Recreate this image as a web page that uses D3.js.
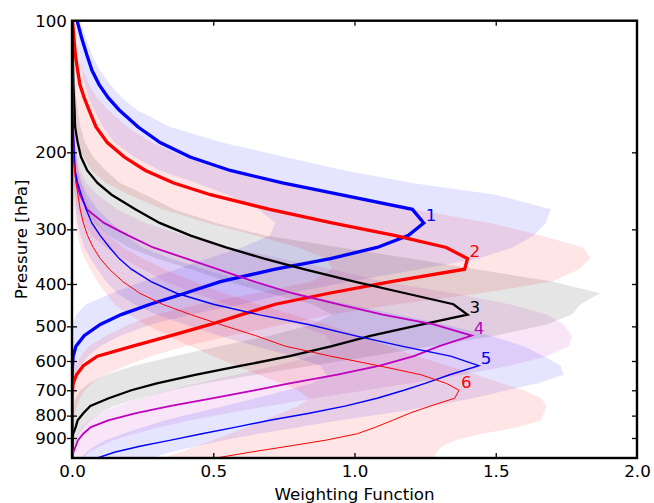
<html>
<head>
  <style>
  body { margin: 0; background: #fff; }
  text { font-family: "DejaVu Sans", sans-serif; }
  .tick text { font-size: 16.7px; }
  .tick line { stroke: #000; stroke-width: 1.3px; }
  .domain { display: none; }
  </style>
  <script src="https://d3js.org/d3.v7.min.js"></script>
</head>
<body>
  <svg id="chart" width="654" height="503"></svg>
  <script>
  // pressure levels [hPa]
  var pressure = [100,110,120,130,140,150,160,175,190,205,220,235,250,270,290,310,330,350,370,395,
                  420,445,470,495,525,555,585,615,645,675,700,730,760,790,820,850,880,910,940,970,1000];

  // weighting function of each channel
  var ch1 = [0.018,0.035,0.053,0.071,0.096,0.128,0.167,0.234,0.312,0.418, 0.56,0.745,0.95,1.205,1.245,1.19,1.08,0.915,0.72,0.525,
             0.40,0.277,0.174,0.10,0.043,0.014,0.004,0.002,0.001,0, 0,0,0,0,0,0,0,0,0,0,0];
  var ch2 = [0.002,0.007,0.012,0.02,0.028,0.043,0.06,0.085,0.125,0.185, 0.26,0.36,0.49,0.70,0.92,1.145,1.325,1.40,1.39,1.13,
             0.91,0.72,0.60,0.49,0.35,0.215,0.09,0.04,0.016,0.004, 0.002,0.001,0,0,0,0,0,0,0,0,0];
  var ch3 = [0.001,0.002,0.003,0.004,0.005,0.007,0.009,0.011,0.02,0.032, 0.054,0.09,0.14,0.224,0.31,0.42,0.545,0.68,0.82,1.0,
             1.18,1.35,1.40,1.24,1.06,0.92,0.77,0.60,0.44,0.30, 0.21,0.13,0.065,0.04,0.02,0.013,0.004,0.002,0.001,0,0];
  var ch4 = [0.001,0.001,0.001,0.002,0.002,0.002,0.003,0.004,0.006,0.008, 0.010,0.016,0.028,0.053,0.113,0.20,0.287,0.405,0.515,0.645,
             0.78,0.94,1.10,1.28,1.415,1.30,1.21,1.09,0.94,0.77, 0.645,0.50,0.35,0.227,0.128,0.067,0.04,0.021,0.013,0.005,0.002];
  var ch5 = [0,0,0.001,0.001,0.002,0.002,0.003,0.004,0.006,0.008, 0.011,0.02,0.033,0.05,0.07,0.10,0.133,0.167,0.21,0.28,
             0.37,0.50,0.66,0.837,1.0,1.167,1.34,1.44,1.337,1.25, 1.175,1.08,0.97,0.84,0.70,0.58,0.46,0.35,0.24,0.15,0.09];
  var ch6 = [0,0,0,0,0.001,0.001,0.001,0.002,0.003,0.005, 0.009,0.014,0.021,0.029,0.040,0.055,0.075,0.10,0.132,0.18,
             0.24,0.32,0.42,0.525,0.65,0.755,0.915,1.085,1.235,1.325, 1.37,1.355,1.27,1.195,1.135,1.075,1.01,0.90,0.765,0.63,0.51];

  // spread (lower / upper edge of shaded band)
  var lo1 = [0.013,0.02,0.028,0.035,0.045,0.06,0.078,0.11,0.15,0.22, 0.31,0.44,0.55,0.66,0.72,0.70,0.60,0.48,0.37,0.25,
             0.14,0.05,0.015,0.004,0.001,0,0,0,0,0, 0,0,0,0,0,0,0,0,0,0,0];
  var hi1 = [0.028,0.05,0.071,0.099,0.135,0.177,0.23,0.348,0.532,0.755, 0.965,1.205,1.50,1.695,1.677,1.635,1.56,1.44,1.23,0.985,
             0.77,0.60,0.42,0.28,0.17,0.10,0.057,0.03,0.015,0.008, 0.005,0.003,0.002,0.001,0,0,0,0,0,0,0];
  var lo2 = [0,0,0,0.001,0.002,0.003,0.005,0.01,0.02,0.04, 0.07,0.12,0.20,0.32,0.48,0.65,0.80,0.90,0.92,0.85,
             0.65,0.45,0.30,0.20,0.12,0.06,0.03,0.012,0.004,0, 0,0,0,0,0,0,0,0,0,0,0];
  var hi2 = [0.011,0.018,0.027,0.039,0.06,0.089,0.128,0.195,0.284,0.397, 0.546,0.72,0.936,1.205,1.48,1.66,1.81,1.835,1.795,1.70,
             1.45,1.15,0.92,0.75,0.56,0.40,0.28,0.19,0.117,0.07, 0.046,0.028,0.018,0.01,0.007,0.004,0.002,0.001,0.001,0,0];
  var lo3 = [0,0,0,0,0.001,0.001,0.002,0.003,0.005,0.008, 0.012,0.02,0.03,0.05,0.08,0.13,0.2,0.3,0.42,0.55,
             0.70,0.85,0.92,0.85,0.70,0.52,0.36,0.22,0.12,0.06, 0.03,0.012,0.004,0,0,0,0,0,0,0,0];
  var hi3 = [0.003,0.004,0.006,0.008,0.011,0.015,0.02,0.03,0.046,0.075, 0.12,0.17,0.26,0.36,0.51,0.685,0.95,1.20,1.43,1.70,
             1.87,1.80,1.77,1.68,1.50,1.27,1.06,0.845,0.65,0.47, 0.35,0.24,0.15,0.10,0.064,0.042,0.025,0.015,0.008,0.004,0.002];
  var lo4 = [0,0,0,0,0,0,0.001,0.001,0.002,0.003, 0.004,0.006,0.01,0.02,0.04,0.07,0.12,0.18,0.25,0.33,
             0.43,0.55,0.68,0.80,0.90,0.92,0.85,0.72,0.58,0.45, 0.34,0.24,0.16,0.10,0.06,0.035,0.02,0.01,0.005,0.002,0.001];
  var hi4 = [0.002,0.002,0.003,0.003,0.004,0.005,0.006,0.008,0.012,0.018, 0.03,0.05,0.09,0.16,0.26,0.40,0.56,0.74,0.92,1.10,
             1.35,1.55,1.68,1.74,1.77,1.76,1.68,1.55,1.38,1.20, 1.04,0.86,0.70,0.55,0.42,0.31,0.22,0.15,0.10,0.06,0.04];
  var lo5 = [0,0,0,0,0,0,0,0.001,0.001,0.002, 0.003,0.005,0.008,0.013,0.02,0.03,0.045,0.065,0.09,0.12,
             0.16,0.22,0.30,0.40,0.52,0.65,0.78,0.88,0.90,0.85, 0.76,0.65,0.54,0.43,0.33,0.25,0.18,0.12,0.08,0.05,0.03];
  var hi5 = [0.001,0.001,0.002,0.002,0.003,0.004,0.005,0.007,0.01,0.015, 0.022,0.035,0.055,0.09,0.14,0.19,0.25,0.35,0.47,0.62,
             0.80,0.98,1.15,1.32,1.48,1.60,1.67,1.73,1.74,1.65, 1.54,1.42,1.28,1.12,0.95,0.80,0.66,0.54,0.44,0.35,0.28];
  var lo6 = [0,0,0,0,0,0,0,0,0,0, 0.001,0.002,0.004,0.008,0.012,0.02,0.03,0.045,0.065,0.09,
             0.12,0.15,0.20,0.26,0.34,0.42,0.50,0.58,0.66,0.74, 0.80,0.84,0.80,0.74,0.68,0.62,0.56,0.50,0.44,0.38,0.32];
  var hi6 = [0.001,0.001,0.002,0.002,0.003,0.004,0.005,0.007,0.01,0.015, 0.022,0.032,0.045,0.065,0.09,0.13,0.18,0.25,0.33,0.43,
             0.54,0.66,0.78,0.90,1.02,1.12,1.22,1.33,1.43,1.52, 1.60,1.66,1.68,1.67,1.66,1.58,1.45,1.36,1.31,1.29,1.28];

  var channels = ["1","2","3","4","5","6"];
  var lines = [ch1, ch2, ch3, ch4, ch5, ch6];
  var lows  = [lo1, lo2, lo3, lo4, lo5, lo6];
  var highs = [hi1, hi2, hi3, hi4, hi5, hi6];
  var colors = ["#0000ff","#ff0000","#000000","#bf00bf","#0000ff","#ff0000"];
  var widths = [3.3, 3.3, 2.3, 1.8, 1.4, 1.0];

  var xTicks = [0, 0.5, 1.0, 1.5, 2.0];
  var yTicks = [100,200,300,400,500,600,700,800,900];

  // plot box (window.top is reserved, so prefixed names)
  var pL = 72, pR = 637, pT = 20.7, pB = 458;
  var svg = d3.select("#chart");

  var x = d3.scaleLinear().domain([0, 2]).range([pL, pR]);
  var y = d3.scaleLog().domain([100, 1000]).range([pT, pB]);

  svg.append("clipPath").attr("id", "clip")
     .append("rect")
     .attr("x", pL).attr("y", pT)
     .attr("width", pR-pL).attr("height", pB-pT);

  var plot = svg.append("g").attr("clip-path", "url(#clip)");

  // shaded bands first
  channels.forEach(function(c, k) {
    var area = d3.area()
      .y(function(d, i) { return y(pressure[i]); })
      .x0(function(d, i) { return x(lows[k][i]); })
      .x1(function(d, i) { return x(highs[k][i]); });
    plot.append("path")
        .attr("d", area(pressure))
        .attr("fill", colors[k])
        .attr("fill-opacity", 0.1)
        .attr("stroke", "none");
  });

  // weighting function lines
  channels.forEach(function(c, k) {
    var line = d3.line()
      .x(function(d) { return x(d); })
      .y(function(d, i) { return y(pressure[i]); });
    plot.append("path")
        .attr("d", line(lines[k]))
        .attr("fill", "none")
        .attr("stroke", colors[k])
        .attr("stroke-width", widths[k])
        .attr("stroke-linejoin", "miter");
  });

  // channel number next to the peak
  channels.forEach(function(c, k) {
    var im = d3.maxIndex(lines[k]);
    svg.append("text")
       .attr("x", x(lines[k][im]) + 2)
       .attr("y", y(pressure[im]) - 2)
       .attr("font-size", "16.7px")
       .attr("fill", colors[k])
       .text(c);
  });

  // axes
  var gx = svg.append("g").attr("transform", "translate(0," + pB + ")")
     .call(d3.axisBottom(x).tickValues(xTicks).tickFormat(d3.format(".1f"))
             .tickSize(-5).tickSizeOuter(0).tickPadding(7));
  gx.selectAll(".tick text").attr("fill", "#000");
  gx.selectAll(".tick line").filter(function(d) { return d == 0 || d == 2; }).remove();

  svg.append("g").attr("transform", "translate(0," + pT + ")")
     .call(d3.axisTop(x).tickValues([0.5, 1.0, 1.5]).tickFormat("").tickSize(-5).tickSizeOuter(0));

  var gy = svg.append("g").attr("transform", "translate(" + pL + ",0)")
     .call(d3.axisLeft(y).tickValues(yTicks).tickFormat(d3.format("d"))
             .tickSize(5).tickSizeOuter(0).tickPadding(0));
  gy.selectAll(".tick line").attr("x1", 5);
  gy.selectAll(".tick text").attr("fill", "#000");
  gy.selectAll(".tick line").filter(function(d) { return d == 100; }).remove();

  svg.append("g").attr("transform", "translate(" + pR + ",0)")
     .call(d3.axisRight(y).tickValues(yTicks.slice(1)).tickFormat("").tickSize(-5).tickSizeOuter(0));

  // frame
  svg.append("rect")
     .attr("x", pL).attr("y", pT)
     .attr("width", pR-pL).attr("height", pB-pT)
     .attr("fill", "none").attr("stroke", "#000").attr("stroke-width", 2.4);

  // axis titles
  svg.append("text")
     .attr("transform", "translate(27," + ((pT+pB)/2) + ") rotate(-90)")
     .attr("text-anchor", "middle")
     .attr("font-size", "16.7px")
     .text("Pressure [hPa]");

  svg.append("text")
     .attr("x", (pL+pR)/2)
     .attr("y", 500)
     .attr("text-anchor", "middle")
     .attr("font-size", "16.7px")
     .text("Weighting Function");
  </script>
</body>
</html>
